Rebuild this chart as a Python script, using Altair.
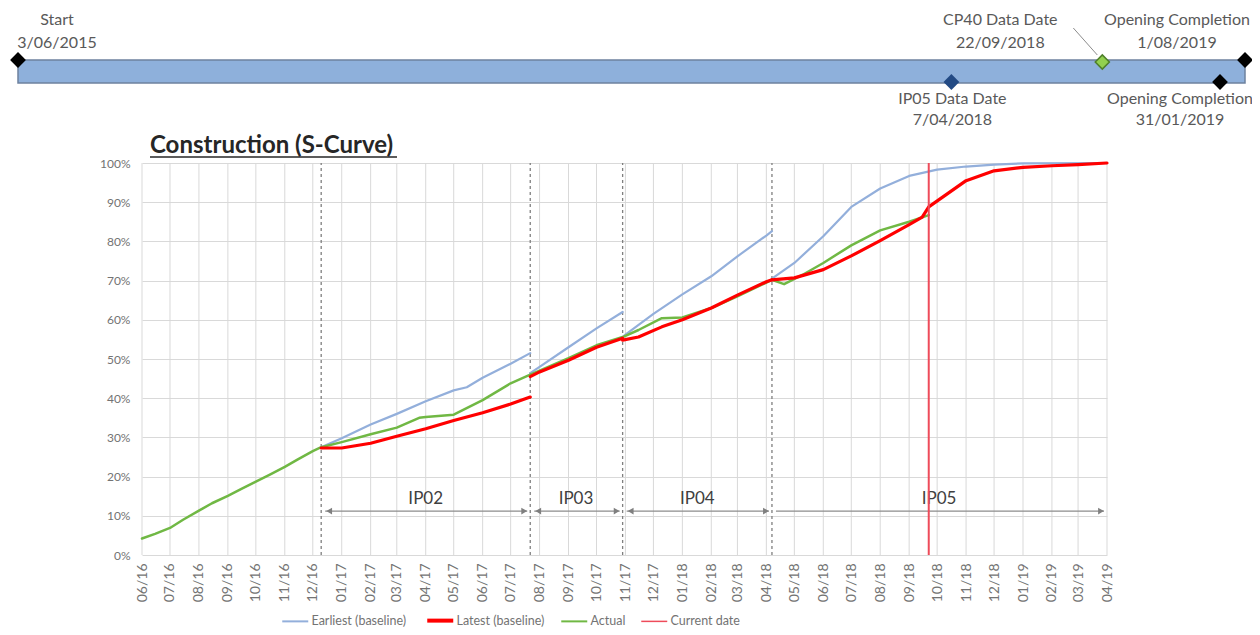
import altair as alt
import pandas as pd

# ---------------- S-curve data (fractions of 100%) ----------------
actual_dates = ["2016-06-01", "2016-06-15", "2016-07-01", "2016-07-15", "2016-08-01", "2016-08-15",
                "2016-09-01", "2016-09-15", "2016-10-01", "2016-10-15", "2016-11-01", "2016-11-15",
                "2016-12-01", "2016-12-10", "2017-01-01", "2017-02-01", "2017-03-01", "2017-03-25",
                "2017-04-01", "2017-05-01", "2017-06-01", "2017-07-01", "2017-07-22", "2017-08-01",
                "2017-09-01", "2017-10-01", "2017-10-29", "2017-11-15", "2017-12-10", "2018-01-01",
                "2018-02-01", "2018-03-01", "2018-04-01", "2018-04-07", "2018-04-20", "2018-05-10",
                "2018-06-01", "2018-07-01", "2018-08-01", "2018-09-01", "2018-09-22"]
actual_values = [0.042, 0.054, 0.069, 0.090, 0.113, 0.132,
                 0.151, 0.168, 0.187, 0.204, 0.225, 0.244,
                 0.265, 0.275, 0.288, 0.308, 0.325, 0.350,
                 0.352, 0.358, 0.395, 0.438, 0.460, 0.470,
                 0.502, 0.535, 0.556, 0.574, 0.604, 0.606,
                 0.630, 0.660, 0.695, 0.702, 0.691, 0.715,
                 0.745, 0.790, 0.828, 0.850, 0.867]

earliest_ip02_dates = ["2016-12-10", "2017-01-01", "2017-02-01", "2017-03-01", "2017-04-01",
                       "2017-05-01", "2017-05-15", "2017-06-01", "2017-07-01", "2017-07-22"]
earliest_ip02_values = [0.275, 0.298, 0.333, 0.360, 0.392, 0.420, 0.428, 0.452, 0.488, 0.515]
earliest_ip03_dates = ["2017-07-22", "2017-08-01", "2017-09-01", "2017-10-01", "2017-10-29"]
earliest_ip03_values = [0.464, 0.480, 0.530, 0.578, 0.620]
earliest_ip04_dates = ["2017-10-29", "2017-11-01", "2017-12-01", "2018-01-01", "2018-02-01",
                       "2018-03-01", "2018-04-01", "2018-04-07"]
earliest_ip04_values = [0.556, 0.562, 0.615, 0.665, 0.711, 0.762, 0.815, 0.826]
earliest_ip05_dates = ["2018-04-07", "2018-05-01", "2018-06-01", "2018-07-01", "2018-08-01",
                       "2018-09-01", "2018-10-01", "2018-11-01", "2018-12-01", "2019-01-01",
                       "2019-04-01"]
earliest_ip05_values = [0.705, 0.745, 0.813, 0.888, 0.935, 0.967, 0.983, 0.991, 0.996, 0.999, 1.0]

latest_ip02_dates = ["2016-12-10", "2017-01-01", "2017-02-01", "2017-03-01", "2017-04-01",
                     "2017-05-01", "2017-06-01", "2017-07-01", "2017-07-22"]
latest_ip02_values = [0.273, 0.273, 0.285, 0.303, 0.322, 0.343, 0.363, 0.385, 0.403]
latest_ip03_dates = ["2017-07-22", "2017-08-01", "2017-09-01", "2017-10-01", "2017-10-29"]
latest_ip03_values = [0.455, 0.467, 0.497, 0.530, 0.553]
latest_ip04_dates = ["2017-10-29", "2017-11-15", "2017-12-10", "2018-01-01", "2018-02-01",
                     "2018-03-01", "2018-04-01", "2018-04-07"]
latest_ip04_values = [0.548, 0.556, 0.582, 0.600, 0.630, 0.663, 0.697, 0.702]
latest_ip05_dates = ["2018-04-07", "2018-05-01", "2018-06-01", "2018-07-01", "2018-08-01",
                     "2018-09-01", "2018-09-15", "2018-09-22", "2018-10-08", "2018-11-01",
                     "2018-12-01", "2019-01-01", "2019-02-01", "2019-03-01", "2019-04-01"]
latest_ip05_values = [0.702, 0.707, 0.728, 0.763, 0.802, 0.843, 0.862, 0.888, 0.915, 0.955,
                      0.980, 0.989, 0.993, 0.996, 1.0]

series_names = ["Earliest (baseline)", "Latest (baseline)", "Actual", "Current date"]
series_colors = ["#93AFDB", "#FF0000", "#70B844", "#EE4B5A"]

ip_names = ["IP02", "IP03", "IP04", "IP05"]
ip_starts = ["2016-12-10", "2017-07-22", "2017-10-29", "2018-04-07"]
ip_ends = ["2017-07-22", "2017-10-29", "2018-04-07", "2019-04-01"]

current_date = "2018-09-22"

month_ticks = pd.date_range("2016-06-01", "2019-04-01", freq="MS").strftime("%Y-%m-%d").tolist()
y_ticks = [0.0, 0.1, 0.2, 0.3, 0.4, 0.5, 0.6, 0.7, 0.8, 0.9, 1.0]

# ---------------- timeline data ----------------
timeline_start = "2015-06-03"
timeline_end = "2019-08-01"
timeline_break = "2019-01-31"   # timeline is drawn compressed after this date
milestone_names = ["Start", "IP05 Data Date", "CP40 Data Date", "Opening Completion", "Opening Completion"]
milestone_dates = ["2015-06-03", "2018-04-07", "2018-09-22", "2019-01-31", "2019-08-01"]
milestone_date_labels = ["3/06/2015", "7/04/2018", "22/09/2018", "31/01/2019", "1/08/2019"]

chart_title = "Construction (S-Curve)"

# ---------------- frames ----------------
rows = []


def add(series, seg, dates, values):
    for d, v in zip(dates, values):
        rows.append({"series": series, "seg": seg, "date": d, "value": v})


add("Actual", "A", actual_dates, actual_values)
add("Earliest (baseline)", "E2", earliest_ip02_dates, earliest_ip02_values)
add("Earliest (baseline)", "E3", earliest_ip03_dates, earliest_ip03_values)
add("Earliest (baseline)", "E4", earliest_ip04_dates, earliest_ip04_values)
add("Earliest (baseline)", "E5", earliest_ip05_dates, earliest_ip05_values)
add("Latest (baseline)", "L2", latest_ip02_dates, latest_ip02_values)
add("Latest (baseline)", "L3", latest_ip03_dates, latest_ip03_values)
add("Latest (baseline)", "L4", latest_ip04_dates, latest_ip04_values)
add("Latest (baseline)", "L5", latest_ip05_dates, latest_ip05_values)
lines_df = pd.DataFrame(rows)


def to_ms(s):
    return int(pd.Timestamp(s).value // 10**6)


grid_df = pd.DataFrame({"date": month_ticks, "lo": 0.0, "hi": 1.0})
ip_df = pd.DataFrame({"ip": ip_names, "start": ip_starts, "end": ip_ends})
_s = pd.to_datetime(ip_df["start"])
_e = pd.to_datetime(ip_df["end"])
ip_df["mid"] = (_s + (_e - _s) / 2).dt.strftime("%Y-%m-%d")
cur_df = pd.DataFrame({"series": ["Current date"], "date": [current_date], "lo": [0.0], "hi": [1.0]})
bar_df = pd.DataFrame({"start": [to_ms(timeline_start)], "end": [to_ms(timeline_end)]})
ms_df = pd.DataFrame({"name": milestone_names, "t": [to_ms(d) for d in milestone_dates],
                      "dlabel": milestone_date_labels})
ms_df["label"] = ms_df["name"] + "\n" + ms_df["dlabel"]
one_df = pd.DataFrame({"t": [chart_title]})


def utc(y, m, d):
    return alt.DateTime(year=y, month=m, date=d, utc=True)


FONT = "Lato"
sx = alt.Scale(type="utc", domain=[utc(2016, 6, 1), utc(2019, 4, 1)], nice=False)
sy = alt.Scale(domain=[0, 1], range=[547, 155], nice=False, zero=False)
tx = alt.Scale(type="linear",
               domain=[to_ms(timeline_start), to_ms(timeline_break), to_ms(timeline_end)],
               range=[-124, 1078, 1103], nice=False, zero=False)

xaxis = alt.Axis(format="%m/%y", tickCount=alt.TimeIntervalStep(interval="month", step=1),
                 labelAngle=270, grid=False, domain=False, ticks=False, labelPadding=8,
                 labelFont=FONT, labelFontSize=14, labelColor="#737373", title=None,
                 labelFlush=False, labelOverlap=False, labelBound=False)
yaxis = alt.Axis(format=".0%", values=y_ticks, grid=True, gridColor="#D9D9D9", gridWidth=1,
                 domain=False, ticks=False, labelPadding=12, labelFont=FONT, labelFontSize=12,
                 labelColor="#737373", title=None, orient="left")

legend = alt.Legend(title=None, orient="none", legendX=147, legendY=606, direction="horizontal",
                    symbolType="stroke", symbolSize=676,
                    symbolStrokeWidth=alt.ExprRef(expr="datum.value == 'Latest (baseline)' ? 4 : (datum.value == 'Current date' ? 1.5 : 2)"),
                    labelFont=FONT, labelFontSize=12.5, labelColor="#737373", labelOffset=10,
                    columnPadding=12, padding=0)
color = alt.Color("series:N", scale=alt.Scale(domain=series_names, range=series_colors), legend=legend)

# month gridlines (carry both axes)
vgrid = alt.Chart(grid_df).mark_rule(color="#D9D9D9", strokeWidth=1).encode(
    x=alt.X("date:T", scale=sx, axis=xaxis),
    y=alt.Y("lo:Q", scale=sy, axis=yaxis),
    y2="hi:Q",
)

dashed = alt.Chart(ip_df).transform_calculate(lo="0", hi="1").mark_rule(
    strokeDash=[3, 3], color="#7F7F7F", strokeWidth=1.3).encode(
    x=alt.X("start:T", scale=sx, axis=None),
    y=alt.Y("lo:Q", scale=sy, axis=yaxis),
    y2="hi:Q",
)

arrow_base = alt.Chart(ip_df).transform_calculate(level="0.112", tlevel="0.143")
arrows = arrow_base.mark_rule(color="#8C8C8C", strokeWidth=1.2, xOffset=4, x2Offset=-3).encode(
    x=alt.X("start:T", scale=sx, axis=None), x2="end:T",
    y=alt.Y("level:Q", scale=sy, axis=yaxis),
)
left_heads = arrow_base.transform_filter(alt.datum.ip != "IP05").mark_point(
    shape="triangle-left", filled=True, size=45, color="#7F7F7F", opacity=1, xOffset=8).encode(
    x=alt.X("start:T", scale=sx, axis=None), y=alt.Y("level:Q", scale=sy, axis=yaxis))
right_heads = arrow_base.mark_point(
    shape="triangle-right", filled=True, size=45, color="#7F7F7F", opacity=1, xOffset=-6).encode(
    x=alt.X("end:T", scale=sx, axis=None), y=alt.Y("level:Q", scale=sy, axis=yaxis))
ip_labels = arrow_base.mark_text(font=FONT, fontSize=17, color="#404040", baseline="middle").encode(
    x=alt.X("mid:T", scale=sx, axis=None), y=alt.Y("tlevel:Q", scale=sy, axis=yaxis), text="ip:N")


def line_layer(name, width):
    return alt.Chart(lines_df).transform_filter(alt.datum.series == name).mark_line(
        strokeJoin="round", strokeCap="round").encode(
        x=alt.X("date:T", scale=sx, axis=None),
        y=alt.Y("value:Q", scale=sy, axis=yaxis),
        detail="seg:N",
        color=color,
        strokeWidth=alt.value(width),
    )


blue = line_layer("Earliest (baseline)", 2.2)
green = line_layer("Actual", 2.5)
red = line_layer("Latest (baseline)", 3.2)

cur = alt.Chart(cur_df).mark_rule().encode(
    x=alt.X("date:T", scale=sx, axis=None),
    y=alt.Y("lo:Q", scale=sy, axis=yaxis), y2="hi:Q",
    color=color, strokeWidth=alt.value(2),
)

title_txt = alt.Chart(one_df).mark_text(font=FONT, fontSize=24, fontWeight="bold", color="#262626",
                                         align="left", baseline="alphabetic").encode(
    x=alt.value(8), y=alt.value(145), text="t:N")
underline = alt.Chart(one_df).mark_rule(color="#262626", strokeWidth=1.5).encode(
    x=alt.value(8), x2=alt.value(255), y=alt.value(149))

# ---------------- timeline ----------------
bar = alt.Chart(bar_df).mark_rect(fill="#8EB0DB", stroke="#6D819F", strokeWidth=1.5).encode(
    x=alt.X("start:Q", scale=tx, axis=None), x2="end:Q", y=alt.value(52), y2=alt.value(75))


def diamond(idx, fill, y, stroke=None):
    kw = dict(shape="diamond", filled=True, size=250, fill=fill, opacity=1)
    if stroke:
        kw.update(stroke=stroke, strokeWidth=1.5, size=200)
    return alt.Chart(ms_df.iloc[[idx]]).mark_point(**kw).encode(
        x=alt.X("t:Q", scale=tx, axis=None), y=alt.value(y))


def ms_text(idx, dx, y, lh):
    return alt.Chart(ms_df.iloc[[idx]]).mark_text(
        font=FONT, fontSize=16, color="#595959", align="center", baseline="middle",
        lineBreak="\n", lineHeight=lh, dx=dx).encode(
        x=alt.X("t:Q", scale=tx, axis=None), y=alt.value(y), text="label:N")


leader = alt.Chart(ms_df.iloc[[2]]).mark_rule(color="#8C8C8C", strokeWidth=1, xOffset=-29, x2Offset=-5).encode(
    x=alt.X("t:Q", scale=tx, axis=None), x2="t:Q", y=alt.value(20), y2=alt.value(47))

layers = [vgrid, dashed, arrows, left_heads, right_heads, ip_labels, blue, green, red, cur,
          title_txt, underline, bar, leader,
          diamond(0, "#000000", 52), diamond(1, "#234A84", 74), diamond(2, "#92D050", 54, stroke="#4E7F2A"),
          diamond(3, "#000000", 74), diamond(4, "#000000", 52),
          ms_text(0, 39, 12, 22.5), ms_text(1, 1, 91, 21), ms_text(2, -102, 12, 22.5),
          ms_text(3, -40, 91, 21), ms_text(4, -68, 12, 22.5)]

chart = alt.layer(*layers).resolve_scale(x="independent").properties(
    width=965, height=547,
    padding={"left": 134, "top": 0, "right": 145, "bottom": 72},
    autosize=alt.AutoSizeParams(type="none"),
    background="white",
).configure_view(stroke=None)

chart.save("out.html", embed_options={"renderer": "svg", "actions": False})
